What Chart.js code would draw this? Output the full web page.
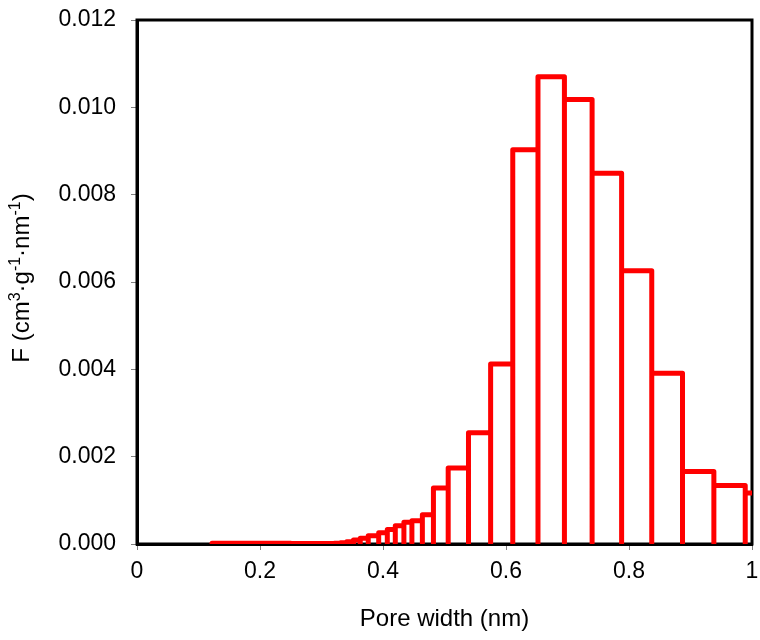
<!DOCTYPE html>
<html>
<head>
<meta charset="utf-8">
<title>Pore size distribution</title>
<script src="https://cdn.jsdelivr.net/npm/chart.js@4.4.1/dist/chart.umd.min.js"></script>
<style>
    html, body { margin: 0; padding: 0; background: #fff; }
    #poreChart { display: block; }
</style>
</head>
<body>
<canvas id="poreChart" width="760" height="640"></canvas>
<script>
// bin edges (nm) and the value of each bin between two edges
const binEdges = [
    0.122, 0.130, 0.138, 0.146, 0.154, 0.162, 0.170, 0.178, 0.186, 0.194,
    0.202, 0.210, 0.218, 0.226, 0.234, 0.242, 0.250, 0.258, 0.267, 0.276,
    0.285, 0.294, 0.303, 0.312, 0.321, 0.331, 0.341, 0.352, 0.363, 0.376,
    0.393, 0.407, 0.420, 0.434, 0.447, 0.464, 0.482, 0.506, 0.539, 0.575,
    0.611, 0.652, 0.695, 0.740, 0.788, 0.837, 0.887, 0.938, 0.989, 1.040
];
const poreVolume = [
    0.00002, 0.00002, 0.00002, 0.00002, 0.00002, 0.00002, 0.00002, 0.00002, 0.00002, 0.00002,
    0.00002, 0.00002, 0.00002, 0.00002, 0.00002, 0.00002, 0.00001, 0.00001, 0.00001, 0.00001,
    0.00001, 0.00001, 0.00001, 0.00001, 0.00002, 0.00003, 0.00005, 0.00009, 0.00013, 0.00019,
    0.00026, 0.00033, 0.00042, 0.00050, 0.00053, 0.00067, 0.00128, 0.00174, 0.00255, 0.00412,
    0.00903, 0.01070, 0.01018, 0.00849, 0.00626, 0.00391, 0.00166, 0.00134, 0.00117
];
const xTickValues = [0, 0.2, 0.4, 0.6, 0.8, 1];
const yTickValues = [0, 0.002, 0.004, 0.006, 0.008, 0.010, 0.012];

const xTitle = 'Pore width (nm)';
// y title pieces: [text, isSuperscript]
const yTitleParts = [
    ['F (cm', false], ['3', true], ['\u00B7g', false], ['-1', true],
    ['\u00B7nm', false], ['-1', true], [')', false]
];

// step outline: up the left edge, across the top, down the right edge
function buildOutline(edges, values) {
    const pts = [];
    for (let i = 0; i < values.length; i++) {
        pts.push({ x: edges[i], y: 0 });
        pts.push({ x: edges[i], y: values[i] });
        pts.push({ x: edges[i + 1], y: values[i] });
        pts.push({ x: edges[i + 1], y: 0 });
    }
    return pts;
}

const fontFamily = "'Liberation Sans', Arial, sans-serif";
const font = { family: fontFamily, size: 23 };

const frameBox = {
    id: 'frameBox',
    beforeDatasetsDraw(chart) {
        const { ctx, chartArea } = chart;
        ctx.save();
        ctx.strokeStyle = '#000';
        ctx.lineWidth = 3;
        ctx.strokeRect(chartArea.left, chartArea.top,
            chartArea.right - chartArea.left, chartArea.bottom - chartArea.top);
        ctx.restore();
    }
};

// rotated y title with real superscripts
const yTitlePlugin = {
    id: 'yTitlePlugin',
    afterDraw(chart) {
        const { ctx, chartArea } = chart;
        const big = '24px ' + fontFamily;
        const small = '16px ' + fontFamily;
        ctx.save();
        let total = 0;
        yTitleParts.forEach(([t, sup]) => {
            ctx.font = sup ? small : big;
            total += ctx.measureText(t).width;
        });
        ctx.translate(29, (chartArea.top + chartArea.bottom) / 2 - 4);
        ctx.rotate(-Math.PI / 2);
        ctx.fillStyle = '#000';
        ctx.textBaseline = 'alphabetic';
        ctx.textAlign = 'left';
        let x = -total / 2;
        yTitleParts.forEach(([t, sup]) => {
            ctx.font = sup ? small : big;
            ctx.fillText(t, x, sup ? -9 : 0);
            x += ctx.measureText(t).width;
        });
        ctx.restore();
    }
};

const ctx = document.getElementById('poreChart').getContext('2d');
const poreChart = new Chart(ctx, {
    type: 'scatter',
    data: {
        datasets: [{
            label: 'F',
            data: buildOutline(binEdges, poreVolume),
            showLine: true,
            borderColor: '#ff0000',
            borderWidth: 5,
            borderJoinStyle: 'round',
            borderCapStyle: 'round',
            pointRadius: 0,
            pointHoverRadius: 0,
            tension: 0,
            fill: false
        }]
    },
    options: {
        responsive: false,
        animation: false,
        devicePixelRatio: 1,
        layout: { padding: { top: 20, right: 8, left: 0, bottom: 0 } },
        plugins: {
            legend: { display: false },
            tooltip: { enabled: false }
        },
        scales: {
            x: {
                type: 'linear',
                min: 0,
                max: 1,
                afterBuildTicks: (scale) => {
                    scale.ticks = xTickValues.map(v => ({ value: v }));
                },
                afterFit: (scale) => {
                    scale.height = 96;
                    scale.paddingLeft = 0;
                    scale.paddingRight = 0;
                },
                ticks: {
                    color: '#000',
                    font: font,
                    padding: 8,
                    maxRotation: 0,
                    callback: (v) => String(Math.round(v * 10) / 10)
                },
                grid: {
                    drawOnChartArea: false,
                    drawTicks: true,
                    tickLength: 6,
                    color: '#808080',
                    lineWidth: 1
                },
                border: { display: true, color: '#000', width: 3 },
                title: {
                    display: true,
                    text: xTitle,
                    color: '#000',
                    font: { family: fontFamily, size: 24 },
                    padding: { top: 0, bottom: 6 }
                }
            },
            y: {
                type: 'linear',
                min: 0,
                max: 0.012,
                afterBuildTicks: (scale) => {
                    scale.ticks = yTickValues.map(v => ({ value: v }));
                },
                afterFit: (scale) => {
                    scale.width = 137;
                    scale.paddingTop = 0;
                    scale.paddingBottom = 0;
                },
                ticks: {
                    color: '#000',
                    font: font,
                    padding: 15,
                    callback: (v) => v.toFixed(3)
                },
                grid: {
                    drawOnChartArea: false,
                    drawTicks: true,
                    tickLength: 6,
                    color: '#808080',
                    lineWidth: 1
                },
                border: { display: true, color: '#000', width: 3 },
                title: { display: false }
            }
        }
    },
    plugins: [frameBox, yTitlePlugin]
});
</script>
</body>
</html>
